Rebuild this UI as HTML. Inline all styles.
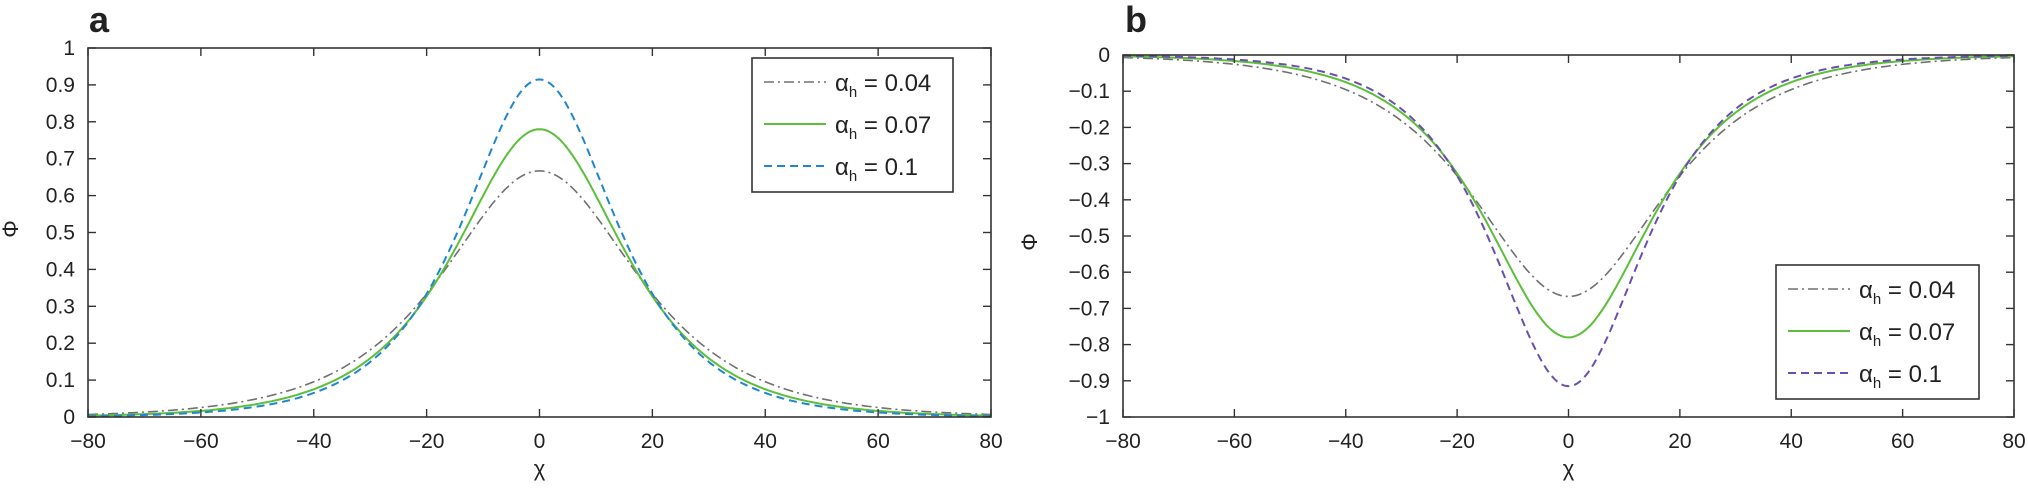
<!DOCTYPE html>
<html><head><meta charset="utf-8"><style>
html,body{margin:0;padding:0;background:#fff}
svg{display:block;font-family:"Liberation Sans",Arial,sans-serif}
</style></head><body>
<svg id="s" width="2028" height="492" xmlns="http://www.w3.org/2000/svg"></svg>
<script>
const s=document.getElementById('s');let h='';
function panel(L,R,T,B,ymin,ymax,sign,blue,leg,lab){
  const X=x=>L+(x+80)/160*(R-L), Y=v=>B-(v-ymin)/(ymax-ymin)*(B-T);
  const series=[[0.667,15.2,'#707070','10,4,2,4',1.6],[0.78,13.2,'#5bbf3a','',2],[0.915,12,blue,'8,5',2]];
  for(const [A,w,c,d,sw] of series){
    let p='';for(let x=-80;x<=80.01;x+=0.5){const v=sign*A/Math.cosh(x/w);p+=(p?'L':'M')+X(x).toFixed(1)+','+Y(v).toFixed(1);}
    h+=`<path d="${p}" fill="none" stroke="${c}" stroke-width="${sw}" ${d?`stroke-dasharray="${d}"`:''}/>`;
  }
  h+=`<rect x="${L}" y="${T}" width="${R-L}" height="${B-T}" fill="none" stroke="#333" stroke-width="1.6"/>`;
  for(let x=-80;x<=80;x+=20){const px=X(x);
    h+=`<line x1="${px}" y1="${B}" x2="${px}" y2="${B-8}" stroke="#333" stroke-width="1.4"/><line x1="${px}" y1="${T}" x2="${px}" y2="${T+8}" stroke="#333" stroke-width="1.4"/>`;
    h+=`<text x="${px}" y="448" font-size="21" text-anchor="middle" fill="#222">${x<0?'−'+(-x):x}</text>`;}
  for(let i=0;i<=10;i++){const v=ymin+i*(ymax-ymin)/10;const py=Y(v);
    h+=`<line x1="${L}" y1="${py}" x2="${L+8}" y2="${py}" stroke="#333" stroke-width="1.4"/><line x1="${R}" y1="${py}" x2="${R-8}" y2="${py}" stroke="#333" stroke-width="1.4"/>`;
    let t=Math.round(v*10)/10;let str=t===0?'0':(t<0?'−'+(-t):''+t);
    h+=`<text x="${L-13}" y="${py+7}" font-size="21" text-anchor="end" fill="#222">${str}</text>`;}
  h+=`<text x="${(L+R)/2}" y="476" font-size="22" text-anchor="middle" fill="#222">χ</text>`;
  h+=`<text x="${lab[0]}" y="${lab[1]}" font-size="36" font-weight="bold" fill="#222">${lab[2]}</text>`;
  const [lx,ly,lw,lh]=leg;
  h+=`<rect x="${lx}" y="${ly}" width="${lw}" height="${lh}" fill="#fff" stroke="#333" stroke-width="1.6"/>`;
  const names=['0.04','0.07','0.1'];
  for(let k=0;k<3;k++){const yy=ly+24+k*42;const [A,w,c,d,sw]=series[k];
    h+=`<line x1="${lx+12}" y1="${yy}" x2="${lx+74}" y2="${yy}" stroke="${c}" stroke-width="${sw}" ${d?`stroke-dasharray="${d}"`:''}/>`;
    h+=`<text x="${lx+83}" y="${yy+9}" font-size="24" fill="#222">α<tspan font-size="15" dy="6">h</tspan><tspan dy="-6"> = ${names[k]}</tspan></text>`;}
}
panel(88,991,48,417,0,1,1,'#1f86d0',[752,58,201,134],[89,32,'a']);
panel(1123,2014,55,417,-1,0,-1,'#6a4fb0',[1776,265,203,134],[1125,32,'b']);
h+=`<text x="0" y="0" font-size="22" fill="#222" transform="translate(18,229) rotate(-90)" text-anchor="middle">Φ</text>`;
h+=`<text x="0" y="0" font-size="22" fill="#222" transform="translate(1037,242) rotate(-90)" text-anchor="middle">Φ</text>`;
s.innerHTML=h;
</script>
</body></html>
